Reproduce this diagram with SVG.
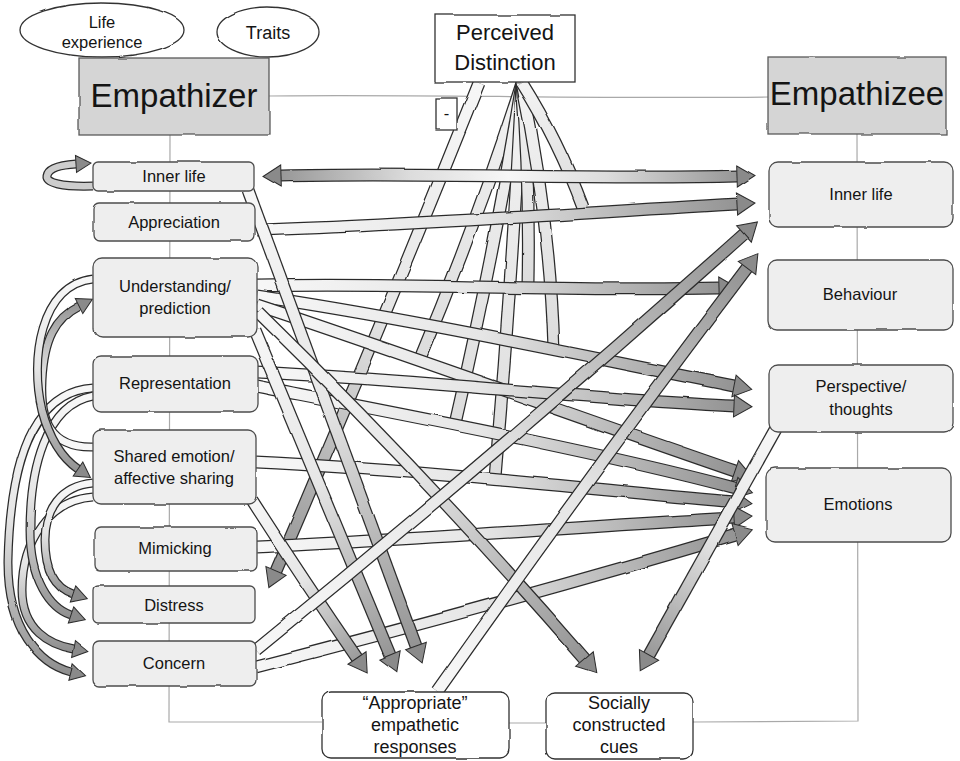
<svg xmlns="http://www.w3.org/2000/svg" width="960" height="761" viewBox="0 0 960 761">
  <defs>
    <style>
      .frame { fill: none; stroke: #a9a9a9; stroke-width: 1.2; }
      .box { fill: #eeeeee; stroke: #4d4d4d; stroke-width: 1.3; filter: url(#rough); }
      .hdr { fill: #d5d5d5; stroke: #5a5a5a; stroke-width: 1.3; filter: url(#rough); }
      .plain { fill: #ffffff; stroke: #333333; stroke-width: 1.3; filter: url(#rough); }
      text { font-family: "Liberation Sans", Arial, sans-serif; fill: #141414; text-anchor: middle; }
      .t { font-size: 16.5px; }
      .tb { font-size: 18px; }
      .big { font-size: 33px; }
      .mid { font-size: 22px; }
      .o { fill: none; stroke: #2c2c2c; stroke-width: 13; }
      .f { fill: none; stroke-width: 10.5; }
      .os { fill: none; stroke: #2c2c2c; stroke-width: 9; }
      .fs { fill: none; stroke-width: 6.5; }
    </style>
    <filter id="rough" x="-5%" y="-5%" width="110%" height="110%">
      <feTurbulence type="fractalNoise" baseFrequency="0.035" numOctaves="2" seed="4" result="n"/>
      <feDisplacementMap in="SourceGraphic" in2="n" scale="2.5" xChannelSelector="R" yChannelSelector="G"/>
    </filter>
    <filter id="wobble" x="-2%" y="-2%" width="104%" height="104%">
      <feTurbulence type="fractalNoise" baseFrequency="0.02" numOctaves="2" seed="7" result="n"/>
      <feDisplacementMap in="SourceGraphic" in2="n" scale="2.5" xChannelSelector="R" yChannelSelector="G"/>
    </filter>
    <marker id="ah" markerUnits="userSpaceOnUse" markerWidth="24" markerHeight="28" viewBox="-2 -13 24 26" refX="0" refY="0" orient="auto-start-reverse">
      <path d="M0,-11 L18,0 L0,11 Z" fill="#8a8a8a" stroke="#2c2c2c" stroke-width="1"/>
    </marker>
    <marker id="ahs" markerUnits="userSpaceOnUse" markerWidth="20" markerHeight="22" viewBox="-2 -10 20 20" refX="0" refY="0" orient="auto">
      <path d="M0,-8.5 L15,0 L0,8.5 Z" fill="#8a8a8a" stroke="#2c2c2c" stroke-width="1"/>
    </marker>
    <linearGradient id="ramp">
      <stop offset="0" stop-color="#f7f7f7"/>
      <stop offset="0.45" stop-color="#e6e6e6"/>
      <stop offset="1" stop-color="#8e8e8e"/>
    </linearGradient>
    <linearGradient id="rampBoth">
      <stop offset="0" stop-color="#8e8e8e"/>
      <stop offset="0.3" stop-color="#dcdcdc"/>
      <stop offset="0.5" stop-color="#f7f7f7"/>
      <stop offset="0.7" stop-color="#dcdcdc"/>
      <stop offset="1" stop-color="#8e8e8e"/>
    </linearGradient>
    <linearGradient id="pale" x1="0" y1="0" x2="0" y2="1">
      <stop offset="0" stop-color="#f3f3f3"/>
      <stop offset="1" stop-color="#dcdcdc"/>
    </linearGradient>
    <linearGradient id="g1" href="#rampBoth" gradientUnits="userSpaceOnUse" x1="262" y1="176" x2="755" y2="176"/>
    <linearGradient id="g2" href="#ramp" gradientUnits="userSpaceOnUse" x1="257" y1="230" x2="755" y2="203"/>
    <linearGradient id="g3" href="#ramp" gradientUnits="userSpaceOnUse" x1="257" y1="286" x2="737" y2="288"/>
    <linearGradient id="g4" href="#ramp" gradientUnits="userSpaceOnUse" x1="257" y1="296" x2="752" y2="390"/>
    <linearGradient id="g5" href="#ramp" gradientUnits="userSpaceOnUse" x1="257" y1="305" x2="752" y2="477"/>
    <linearGradient id="g6" href="#ramp" gradientUnits="userSpaceOnUse" x1="257" y1="372" x2="752" y2="407"/>
    <linearGradient id="g7" href="#ramp" gradientUnits="userSpaceOnUse" x1="257" y1="386" x2="752" y2="492"/>
    <linearGradient id="g8" href="#ramp" gradientUnits="userSpaceOnUse" x1="256" y1="462" x2="752" y2="504"/>
    <linearGradient id="g9" href="#ramp" gradientUnits="userSpaceOnUse" x1="257" y1="547" x2="752" y2="517"/>
    <linearGradient id="g10" href="#ramp" gradientUnits="userSpaceOnUse" x1="256" y1="667" x2="752" y2="530"/>
    <linearGradient id="g11" href="#ramp" gradientUnits="userSpaceOnUse" x1="256" y1="650" x2="758" y2="222"/>
    <linearGradient id="g12" href="#ramp" gradientUnits="userSpaceOnUse" x1="437" y1="692" x2="758" y2="253"/>
    <linearGradient id="g13" href="#ramp" gradientUnits="userSpaceOnUse" x1="776" y1="428" x2="640" y2="671"/>
    <linearGradient id="g14" href="#ramp" gradientUnits="userSpaceOnUse" x1="258" y1="312" x2="597" y2="672"/>
    <linearGradient id="g15" href="#ramp" gradientUnits="userSpaceOnUse" x1="255" y1="330" x2="397" y2="672"/>
    <linearGradient id="g16" href="#ramp" gradientUnits="userSpaceOnUse" x1="248" y1="190" x2="422" y2="663"/>
    <linearGradient id="g17" href="#ramp" gradientUnits="userSpaceOnUse" x1="252" y1="500" x2="367" y2="673"/>
    <linearGradient id="gA" href="#ramp" gradientUnits="userSpaceOnUse" x1="479" y1="83" x2="268" y2="588"/>
    <linearGradient id="gl2" href="#ramp" gradientUnits="userSpaceOnUse" x1="93" y1="279" x2="92" y2="477"/>
    <linearGradient id="gl3" href="#ramp" gradientUnits="userSpaceOnUse" x1="93" y1="447" x2="92" y2="297"/>
    <linearGradient id="gl4" href="#ramp" gradientUnits="userSpaceOnUse" x1="93" y1="483" x2="87" y2="598"/>
    <linearGradient id="gl5" href="#ramp" gradientUnits="userSpaceOnUse" x1="93" y1="396" x2="85" y2="620"/>
    <linearGradient id="gl6" href="#ramp" gradientUnits="userSpaceOnUse" x1="93" y1="497" x2="88" y2="652"/>
    <linearGradient id="gl7" href="#ramp" gradientUnits="userSpaceOnUse" x1="93" y1="388" x2="85" y2="676"/>
  </defs>

  <rect width="960" height="761" fill="#ffffff"/>

  <!-- thin frame joining the two parties and the outcome boxes -->
  <g id="frame">
    <path class="frame" d="M269,96 C400,94 600,99 768,97"/>
    <path class="frame" d="M170,135 L169,722 L322,722"/>
    <path class="frame" d="M509,723 L546,723"/>
    <path class="frame" d="M693,722 L858,721 L857,134"/>
  </g>

  <!-- influence ribbons -->
  <g id="connectors" filter="url(#wobble)">
    <!-- moderating ribbons from the perceived distinction -->
    <g id="fan">
      <path class="o" d="M522,83 Q478,220 419,361"/>
      <path class="f" stroke="url(#pale)" d="M522,83 Q478,220 419,361"/>
      <path class="o" d="M522,83 Q495,250 455,424"/>
      <path class="f" stroke="url(#pale)" d="M522,83 Q495,250 455,424"/>
      <path class="o" d="M522,83 Q512,280 495,478"/>
      <path class="f" stroke="url(#pale)" d="M522,83 Q512,280 495,478"/>
      <path class="o" d="M522,83 Q530,180 528,284"/>
      <path class="f" stroke="url(#pale)" d="M522,83 Q530,180 528,284"/>
      <path class="o" d="M522,83 Q550,220 554,350"/>
      <path class="f" stroke="url(#pale)" d="M522,83 Q550,220 554,350"/>
      <path class="o" d="M522,83 Q558,140 583,207"/>
      <path class="f" stroke="url(#pale)" d="M522,83 Q558,140 583,207"/>
      <path class="o" d="M479,83 Q380,330 276,571"/>
      <path class="f" stroke="url(#gA)" marker-end="url(#ah)" d="M479,83 Q380,330 276,571"/>
    </g>

    <!-- links among the empathizer's own processes -->
    <g id="inner-links">
      <path class="os" d="M93,186 C62,187 46,183 47,176 C48,168 60,165 76,164"/>
      <path class="fs" stroke="#cdcdcd" marker-end="url(#ahs)" d="M93,186 C62,187 46,183 47,176 C48,168 60,165 76,164"/>
      <path class="os" d="M93,388 C30,392 10,470 8,560 C7,630 40,664 71,672"/>
      <path class="fs" stroke="url(#gl7)" marker-end="url(#ahs)" d="M93,388 C30,392 10,470 8,560 C7,630 40,664 71,672"/>
      <path class="os" d="M93,497 C50,500 22,540 22,590 C22,630 50,645 74,649"/>
      <path class="fs" stroke="url(#gl6)" marker-end="url(#ahs)" d="M93,497 C50,500 22,540 22,590 C22,630 50,645 74,649"/>
      <path class="os" d="M93,396 C45,405 30,470 30,530 C30,580 50,608 71,615"/>
      <path class="fs" stroke="url(#gl5)" marker-end="url(#ahs)" d="M93,396 C45,405 30,470 30,530 C30,580 50,608 71,615"/>
      <path class="os" d="M93,483 C60,486 45,510 45,540 C45,570 55,588 73,594"/>
      <path class="fs" stroke="url(#gl4)" marker-end="url(#ahs)" d="M93,483 C60,486 45,510 45,540 C45,570 55,588 73,594"/>
      <path class="os" d="M93,447 C50,448 40,420 42,380 C44,340 55,318 79,306"/>
      <path class="fs" stroke="url(#gl3)" marker-end="url(#ahs)" d="M93,447 C50,448 40,420 42,380 C44,340 55,318 79,306"/>
      <path class="os" d="M93,279 C40,285 30,360 42,410 C50,440 62,458 78,469"/>
      <path class="fs" stroke="url(#gl2)" marker-end="url(#ahs)" d="M93,279 C40,285 30,360 42,410 C50,440 62,458 78,469"/>
    </g>

    <!-- towards the empathizee -->
    <g id="to-empathizee">
      <path class="o" d="M281,176 C420,172 600,180 737,176"/>
      <path class="f" stroke="url(#g1)" marker-start="url(#ah)" marker-end="url(#ah)" d="M281,176 C420,172 600,180 737,176"/>
      <path class="o" d="M257,230 C400,226 560,214 737,204"/>
      <path class="f" stroke="url(#g2)" marker-end="url(#ah)" d="M257,230 C400,226 560,214 737,204"/>
      <path class="o" d="M257,286 C400,282 560,292 719,288"/>
      <path class="f" stroke="url(#g3)" marker-end="url(#ah)" d="M257,286 C400,282 560,292 719,288"/>
      <path class="o" d="M257,296 C420,320 600,360 734,386"/>
      <path class="f" stroke="url(#g4)" marker-end="url(#ah)" d="M257,296 C420,320 600,360 734,386"/>
      <path class="o" d="M257,305 C400,352 600,425 735,471"/>
      <path class="f" stroke="url(#g5)" marker-end="url(#ah)" d="M257,305 C400,352 600,425 735,471"/>
      <path class="o" d="M257,372 C420,380 600,400 734,406"/>
      <path class="f" stroke="url(#g6)" marker-end="url(#ah)" d="M257,372 C420,380 600,400 734,406"/>
      <path class="o" d="M257,386 C400,414 600,452 735,488"/>
      <path class="f" stroke="url(#g7)" marker-end="url(#ah)" d="M257,386 C400,414 600,452 735,488"/>
      <path class="o" d="M256,462 C420,470 600,490 734,502"/>
      <path class="f" stroke="url(#g8)" marker-end="url(#ah)" d="M256,462 C420,470 600,490 734,502"/>
      <path class="o" d="M257,547 C420,540 600,525 734,518"/>
      <path class="f" stroke="url(#g9)" marker-end="url(#ah)" d="M257,547 C420,540 600,525 734,518"/>
      <path class="o" d="M256,667 C420,625 600,575 735,535"/>
      <path class="f" stroke="url(#g10)" marker-end="url(#ah)" d="M256,667 C420,625 600,575 735,535"/>
    </g>

    <!-- towards the outcome boxes -->
    <g id="to-outcomes">
      <path class="o" d="M248,190 Q330,410 416,646"/>
      <path class="f" stroke="url(#g16)" marker-end="url(#ah)" d="M248,190 Q330,410 416,646"/>
      <path class="o" d="M255,330 Q318,480 390,655"/>
      <path class="f" stroke="url(#g15)" marker-end="url(#ah)" d="M255,330 Q318,480 390,655"/>
      <path class="o" d="M252,500 Q300,575 357,658"/>
      <path class="f" stroke="url(#g17)" marker-end="url(#ah)" d="M252,500 Q300,575 357,658"/>
      <path class="o" d="M258,312 Q430,480 585,659"/>
      <path class="f" stroke="url(#g14)" marker-end="url(#ah)" d="M258,312 Q430,480 585,659"/>
      <path class="o" d="M776,428 L649,655"/>
      <path class="f" stroke="url(#g13)" marker-end="url(#ah)" d="M776,428 L649,655"/>
      <path class="o" d="M256,650 Q505,448 744,234"/>
      <path class="f" stroke="url(#g11)" marker-end="url(#ah)" d="M256,650 Q505,448 744,234"/>
      <path class="o" d="M437,692 Q590,475 747,268"/>
      <path class="f" stroke="url(#g12)" marker-end="url(#ah)" d="M437,692 Q590,475 747,268"/>
    </g>
  </g>

  <!-- empathizer side -->
  <g id="life-experience">
    <ellipse class="plain" cx="102" cy="30" rx="82" ry="27"/>
    <text class="t" x="102" y="28">Life</text>
    <text class="t" x="102" y="48">experience</text>
  </g>
  <g id="traits">
    <ellipse class="plain" cx="268" cy="32" rx="51" ry="25"/>
    <text class="tb" x="268" y="39">Traits</text>
  </g>
  <g id="empathizer">
    <rect class="hdr" x="79" y="58" width="190" height="77"/>
    <text class="big" x="174" y="107">Empathizer</text>
  </g>
  <g id="inner-life-l">
    <rect class="box" x="93" y="162" width="161" height="29" rx="5"/>
    <text class="t" x="174" y="182">Inner life</text>
  </g>
  <g id="appreciation">
    <rect class="box" x="93" y="203" width="162" height="38" rx="6"/>
    <text class="t" x="174" y="228">Appreciation</text>
  </g>
  <g id="understanding">
    <rect class="box" x="93" y="258" width="164" height="79" rx="9"/>
    <text class="t" x="175" y="292">Understanding/</text>
    <text class="t" x="175" y="314">prediction</text>
  </g>
  <g id="representation">
    <rect class="box" x="93" y="356" width="165" height="56" rx="8"/>
    <text class="t" x="175" y="389">Representation</text>
  </g>
  <g id="shared-emotion">
    <rect class="box" x="93" y="430" width="163" height="74" rx="8"/>
    <text class="t" x="174" y="462">Shared emotion/</text>
    <text class="t" x="174" y="484">affective sharing</text>
  </g>
  <g id="mimicking">
    <rect class="box" x="95" y="527" width="162" height="44" rx="6"/>
    <text class="t" x="175" y="554">Mimicking</text>
  </g>
  <g id="distress">
    <rect class="box" x="93" y="586" width="162" height="37" rx="5"/>
    <text class="t" x="174" y="611">Distress</text>
  </g>
  <g id="concern">
    <rect class="box" x="93" y="641" width="163" height="45" rx="6"/>
    <text class="t" x="174" y="669">Concern</text>
  </g>

  <!-- moderator -->
  <g id="perceived-distinction">
    <rect class="plain" x="435" y="15" width="140" height="67"/>
    <text class="mid" x="505" y="40">Perceived</text>
    <text class="mid" x="505" y="70">Distinction</text>
  </g>
  <g id="minus-label">
    <rect class="plain" x="436" y="98" width="21" height="32"/>
    <text class="t" x="446.5" y="119">-</text>
  </g>

  <!-- empathizee side -->
  <g id="empathizee">
    <rect class="hdr" x="768" y="57" width="178" height="77"/>
    <text class="big" x="857" y="105">Empathizee</text>
  </g>
  <g id="inner-life-r">
    <rect class="box" x="769" y="162" width="184" height="65" rx="9"/>
    <text class="t" x="861" y="200">Inner life</text>
  </g>
  <g id="behaviour">
    <rect class="box" x="768" y="260" width="185" height="70" rx="9"/>
    <text class="t" x="860" y="300">Behaviour</text>
  </g>
  <g id="perspective">
    <rect class="box" x="769" y="365" width="184" height="67" rx="9"/>
    <text class="t" x="861" y="392">Perspective/</text>
    <text class="t" x="861" y="415">thoughts</text>
  </g>
  <g id="emotions">
    <rect class="box" x="766" y="468" width="185" height="74" rx="9"/>
    <text class="t" x="858" y="510">Emotions</text>
  </g>

  <!-- outcomes -->
  <g id="appropriate-responses">
    <rect class="plain" x="322" y="692" width="187" height="66" rx="9"/>
    <text class="tb" x="415" y="709">“Appropriate”</text>
    <text class="tb" x="415" y="731">empathetic</text>
    <text class="tb" x="415" y="753">responses</text>
  </g>
  <g id="social-cues">
    <rect class="plain" x="546" y="693" width="147" height="66" rx="9"/>
    <text class="tb" x="619" y="709">Socially</text>
    <text class="tb" x="619" y="731">constructed</text>
    <text class="tb" x="619" y="753">cues</text>
  </g>
</svg>
